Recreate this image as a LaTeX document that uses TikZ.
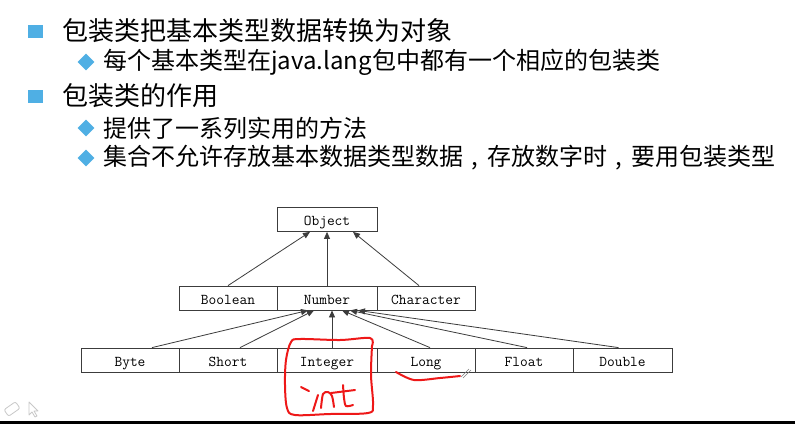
\documentclass[tikz,border=0pt]{standalone}
\usepackage{fontspec}
\setmainfont{Noto Sans CJK SC}
\newfontfamily\cjk{Noto Sans CJK SC}
\usetikzlibrary{arrows.meta,calc,shapes.geometric}
\definecolor{bulletblue}{RGB}{79,175,228}
\definecolor{inkred}{RGB}{238,24,24}
\definecolor{linegray}{RGB}{60,60,60}
\definecolor{icongray}{RGB}{200,200,200}
\newcommand{\midcomma}{\makebox[1em][c]{,}}

\begin{document}
\begin{tikzpicture}[x=1pt,y=-1pt,
  lvlone/.style={anchor=west,inner sep=0pt,font=\cjk\fontsize{26}{30}\selectfont},
  lvltwo/.style={anchor=west,inner sep=0pt,font=\cjk\fontsize{24}{28}\selectfont},
  sqbullet/.style={fill=bulletblue,minimum width=15pt,minimum height=13pt,inner sep=0pt},
  dmbullet/.style={fill=bulletblue,diamond,minimum width=17pt,minimum height=17pt,inner sep=0pt},
  cls/.style={draw=linegray,line width=0.8pt,minimum height=24pt,inner sep=0pt,
    text height=12pt,text depth=0pt,font=\ttfamily\fontsize{15}{17}\selectfont},
  inherit/.style={draw=linegray,line width=0.8pt,-{Triangle[length=7pt,width=6pt]}},
  ink/.style={draw=inkred,line width=2pt,line cap=round,line join=round}
]
\useasboundingbox (0,0) rectangle (795,424);
\fill[white] (0,0) rectangle (795,424);
\fill[black] (0,421) rectangle (795,424);

% bullet list
\node[sqbullet] (b1) at (35,31) {};
\node[lvlone] (t1) at (62,31) {包装类把基本类型数据转换为对象};
\node[dmbullet] (d1) at (86,62) {};
\node[lvltwo] (t2) at (103,62) {每个基本类型在java.lang包中都有一个相应的包装类};
\node[sqbullet] (b2) at (35,96) {};
\node[lvlone] (t3) at (62,96) {包装类的作用};
\node[dmbullet] (d2) at (86,128) {};
\node[lvltwo] (t4) at (103,128) {提供了一系列实用的方法};
\node[dmbullet] (d3) at (86,158) {};
\node[lvltwo] (t5) at (103,158) {集合不允许存放基本数据类型数据\midcomma 存放数字时\midcomma 要用包装类型};

% class hierarchy
\node[cls,minimum width=100pt] (obj) at (327,219.5) {Object};

\node[cls,minimum width=98pt]  (bool) at (228,298) {Boolean};
\node[cls,minimum width=100pt] (num)  at (327,298) {Number};
\node[cls,minimum width=98pt]  (chr)  at (426,298) {Character};

\node[cls,minimum width=98pt]  (byte) at (130,360) {Byte};
\node[cls,minimum width=98pt]  (shrt) at (228,360) {Short};
\node[cls,minimum width=100pt] (intg) at (327,360) {Integer};
\node[cls,minimum width=98pt]  (lng)  at (426,360) {Long};
\node[cls,minimum width=98pt]  (flt)  at (524,360) {Float};
\node[cls,minimum width=99pt]  (dbl)  at (622.5,360) {Double};

\draw[inherit] (bool.north) -- ([xshift=-17pt]obj.south);
\draw[inherit] (num.north) -- (obj.south);
\draw[inherit] ([xshift=-7pt]chr.north) -- ([xshift=26pt]obj.south);

\draw[inherit] ([xshift=22pt]byte.north) -- ([xshift=-19pt]num.south);
\draw[inherit] ([xshift=12pt]shrt.north) -- ([xshift=-13pt]num.south);
\draw[inherit] ([xshift=5pt]intg.north) -- ([xshift=5pt]num.south);
\draw[inherit] ([xshift=4pt]lng.north) -- ([xshift=15pt]num.south);
\draw[inherit] ([xshift=3pt]flt.north) -- ([xshift=23pt]num.south);
\draw[inherit] ([xshift=-4pt]dbl.north) -- ([xshift=31pt]num.south);

% red pen annotations
\draw[ink] plot[smooth, tension=0.55] coordinates {(372,346) (370,338) (340,340) (300,339)
  (291,342) (286,360) (285,385) (287,408) (295,415) (330,414) (368,413) (373,405)
  (371,375) (372,346)};
\draw[ink] (301,387) -- (309,391);
\draw[ink] (318,395) -- (313,411);
\draw[ink] plot[smooth, tension=0.5] coordinates {(321,408) (323,394) (328,392) (332,396) (334,407)};
\draw[ink] (331,393) -- (355,390);
\draw[ink] plot[smooth, tension=0.5] coordinates {(343,385) (344,398) (346,406) (353,405)};
\draw[ink] plot[smooth, tension=0.5] coordinates {(396,372) (414,380) (440,378) (460,376)};

% pen cursor
\draw[gray,line width=0.6pt] (461,377) -- (469,369);
\draw[gray,line width=0.6pt] (463,378) -- (471,370);

% toolbar icons
\draw[icongray,line width=0.8pt,rounded corners=2pt,rotate around={35:(12,409)}]
  (5,405) rectangle (19,413);
\draw[icongray,line width=0.8pt,line join=round]
  (29,402) -- (29,415) -- (32,412) -- (35,417) -- (37,416) -- (34,411) -- (38,411) -- cycle;
\end{tikzpicture}
\end{document}
